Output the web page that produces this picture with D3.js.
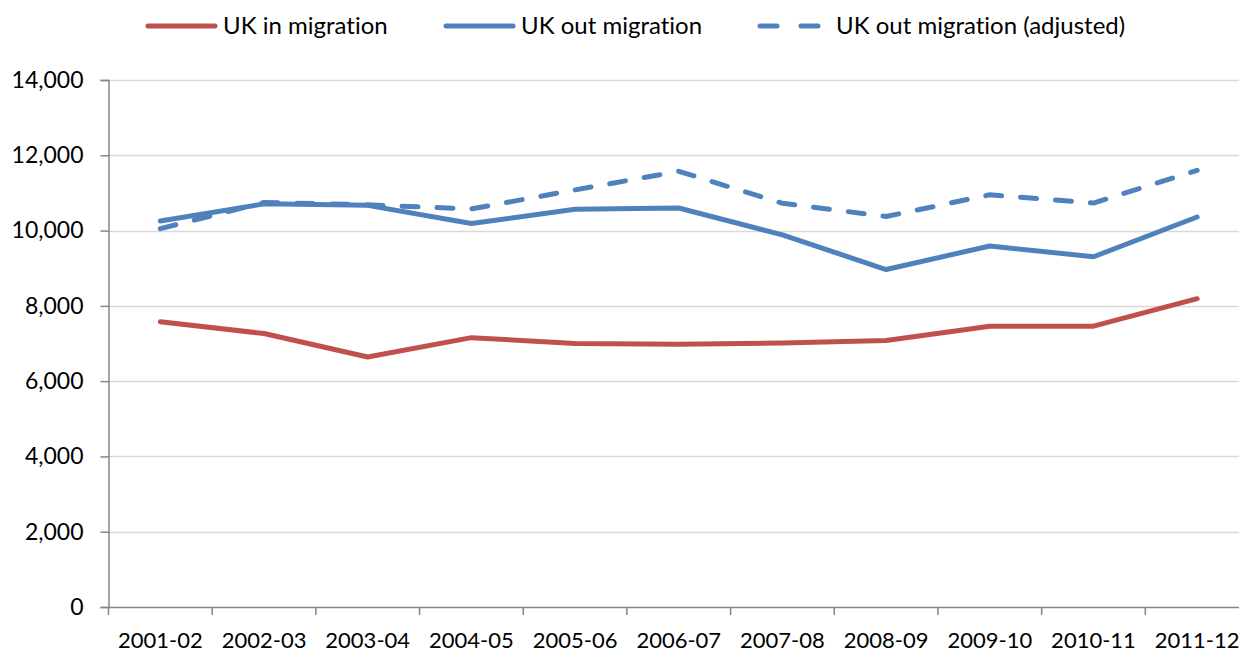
<!DOCTYPE html>
<html>
<head>
<meta charset="utf-8">
<script src="https://cdnjs.cloudflare.com/ajax/libs/d3/7.8.5/d3.min.js"></script>
<style>
  body { margin: 0; background: #fff; }
  svg { display: block; overflow: hidden; }
  text { font-family: Lato, "Open Sans", sans-serif; fill: #000; font-variant-ligatures: none; }
</style>
</head>
<body>
<div id="chart"></div>
<script>
// data
var years = ["2001-02", "2002-03", "2003-04", "2004-05", "2005-06", "2006-07",
             "2007-08", "2008-09", "2009-10", "2010-11", "2011-12"];
var inMigration = [7575, 7265, 6640, 7155, 7000, 6980, 7010, 7080, 7460, 7460, 8190];
var outMigration = [10255, 10710, 10670, 10190, 10565, 10600, 9885, 8965, 9590, 9305, 10360];
var outAdjusted = [10050, 10745, 10685, 10575, 11080, 11575, 10725, 10375, 10950, 10730, 11600];
var yTicks = [0, 2000, 4000, 6000, 8000, 10000, 12000, 14000];

var seriesNames = ["UK in migration", "UK out migration", "UK out migration (adjusted)"];

var svgWidth = 1239;
var svgHeight = 652;
var margin = { top: 80, right: -10, bottom: 45, left: 108.5 };
var width = svgWidth - margin.left - margin.right;
var height = svgHeight - margin.top - margin.bottom;

var svg = d3.select("#chart")
  .append("svg")
  .attr("width", svgWidth)
  .attr("height", svgHeight);

var chartGroup = svg.append("g")
  .attr("transform", `translate(${margin.left}, ${margin.top})`);

var xBand = d3.scaleBand()
  .domain(years)
  .range([0, width]);

var yLinearScale = d3.scaleLinear()
  .domain([0, 14000])
  .range([height, 0]);

// gridlines
chartGroup.append("g")
  .selectAll("line")
  .data(yTicks.filter(d => d > 0))
  .enter()
  .append("line")
  .attr("x1", 0)
  .attr("x2", width)
  .attr("y1", d => Math.round(yLinearScale(d)) + 0.5)
  .attr("y2", d => Math.round(yLinearScale(d)) + 0.5)
  .attr("stroke", "#d9d9d9")
  .attr("stroke-width", 1.5);

// left axis
var leftAxis = d3.axisLeft(yLinearScale)
  .tickValues(yTicks)
  .tickSize(8)
  .tickPadding(17)
  .tickFormat(d3.format(","));

var yAxisG = chartGroup.append("g").call(leftAxis);
yAxisG.select(".domain").attr("stroke", "#868686").attr("stroke-width", 1.5);
yAxisG.selectAll(".tick line").attr("stroke", "#868686").attr("stroke-width", 1.5);
yAxisG.selectAll("text")
  .attr("font-size", "23px")
  .attr("font-family", "Lato, 'Open Sans', sans-serif")
  .attr("fill", "#000");

// bottom axis (ticks on band edges)
var bottomAxis = d3.axisBottom(xBand).tickSize(0).tickPadding(25);
var xAxisG = chartGroup.append("g")
  .attr("transform", `translate(0, ${height})`)
  .call(bottomAxis);
xAxisG.select(".domain").attr("stroke", "#868686").attr("stroke-width", 1.5);
xAxisG.selectAll("text")
  .attr("font-size", "22px")
  .attr("font-family", "Lato, 'Open Sans', sans-serif")
  .attr("fill", "#000");

xAxisG.selectAll(".edge")
  .data(years)
  .enter()
  .append("line")
  .attr("class", "edge")
  .attr("x1", d => xBand(d))
  .attr("x2", d => xBand(d))
  .attr("y1", 0)
  .attr("y2", 8)
  .attr("stroke", "#868686")
  .attr("stroke-width", 1.5);

var cx = d => xBand(d) + xBand.bandwidth() / 2;

var lineGen = d3.line()
  .x((d, i) => cx(years[i]))
  .y(d => yLinearScale(d));

var series = [
  { name: seriesNames[0], values: inMigration, color: "#c0504d", dash: null },
  { name: seriesNames[1], values: outMigration, color: "#4f81bd", dash: null },
  { name: seriesNames[2], values: outAdjusted, color: "#4f81bd", dash: "16,19" }
];

chartGroup.selectAll(".series")
  .data(series)
  .enter()
  .append("path")
  .attr("class", "series")
  .attr("d", d => lineGen(d.values))
  .attr("fill", "none")
  .attr("stroke", d => d.color)
  .attr("stroke-width", 5)
  .attr("stroke-linecap", "round")
  .attr("stroke-linejoin", "round")
  .attr("stroke-dasharray", d => d.dash);

// legend
var legendX = [148, 446, 760];
var legend = svg.append("g");
var items = legend.selectAll("g")
  .data(series)
  .enter()
  .append("g")
  .attr("transform", (d, i) => `translate(${legendX[i]}, 26)`);

items.append("line")
  .attr("x1", 0)
  .attr("x2", (d, i) => i == 2 ? 60 : 67)
  .attr("y1", 0)
  .attr("y2", 0)
  .attr("stroke", d => d.color)
  .attr("stroke-width", 5)
  .attr("stroke-linecap", "round")
  .attr("stroke-dasharray", d => d.dash ? "17,24" : null);

items.append("text")
  .attr("x", (d, i) => i == 2 ? 76 : 75)
  .attr("y", 0)
  .attr("dy", "0.35em")
  .attr("font-size", "24px")
  .text(d => d.name);
</script>
</body>
</html>
